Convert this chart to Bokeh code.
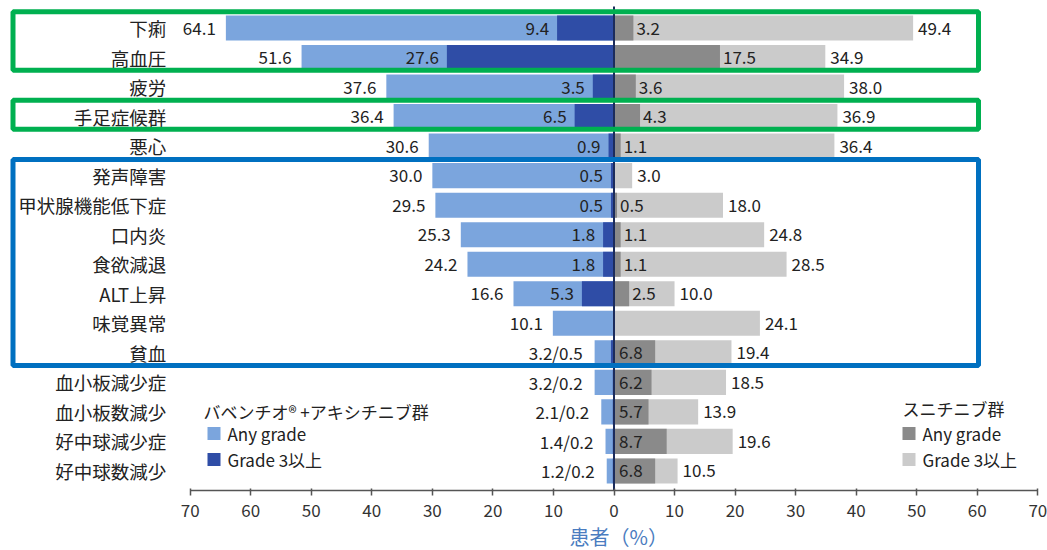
from bokeh.plotting import figure
from bokeh.models import Range1d, FixedTicker, Title
from bokeh.core.properties import value
from bokeh.embed import file_html
from bokeh.resources import INLINE

# Adverse events, % of patients
categories = ["下痢", "高血圧", "疲労", "手足症候群", "悪心", "発声障害", "甲状腺機能低下症",
              "口内炎", "食欲減退", "ALT上昇", "味覚異常", "貧血", "血小板減少症",
              "血小板数減少", "好中球減少症", "好中球数減少"]
combo_any = [64.1, 51.6, 37.6, 36.4, 30.6, 30.0, 29.5, 25.3, 24.2, 16.6, 10.1, 3.2, 3.2, 2.1, 1.4, 1.2]
combo_g3 = [9.4, 27.6, 3.5, 6.5, 0.9, 0.5, 0.5, 1.8, 1.8, 5.3, 0.0, 0.5, 0.2, 0.2, 0.2, 0.2]
suni_any = [49.4, 34.9, 38.0, 36.9, 36.4, 3.0, 18.0, 24.8, 28.5, 10.0, 24.1, 19.4, 18.5, 13.9, 19.6, 10.5]
suni_g3 = [3.2, 17.5, 3.6, 4.3, 1.1, 0.0, 0.5, 1.1, 1.1, 2.5, 0.0, 6.8, 6.2, 5.7, 8.7, 6.8]
axis_ticks = list(range(-70, 71, 10))

# highlighted row groups: (first row, last row, colour)
highlight_groups = [(0, 1, "#00b050"), (3, 3, "#00b050"), (5, 11, "#0070c0")]

FONT = value("Noto Sans CJK JP")
LIGHT_BLUE = "#7ba5dd"
DARK_BLUE = "#2f4da6"
DARK_GREY = "#8a8a8a"
LIGHT_GREY = "#cbcbcb"
TEXT = "#222222"

W, H = 1047, 550
FRAME_H = 490
PX_PER_UNIT = 6.055
ZERO_PX = 613.5
ROW0_PX = 27.5
ROW_PX = 29.53


def px_to_x(px):
    return (px - ZERO_PX) / PX_PER_UNIT


def px_to_row(py):
    return (py - ROW0_PX) / ROW_PX


p = figure(width=W, height=H, output_backend="svg", toolbar_location=None,
           x_range=Range1d(px_to_x(0), px_to_x(W)),
           y_range=Range1d(px_to_row(FRAME_H), px_to_row(0)),
           y_axis_location=None,
           min_border_left=0, min_border_right=0, min_border_top=0,
           min_border_bottom=H - FRAME_H)
p.outline_line_color = None
p.grid.visible = False
p.background_fill_color = "white"
p.border_fill_color = "white"

rows = list(range(len(categories)))
BAR_H = 0.85

# left side (combination arm): any grade, then grade >=3 on top
p.hbar(y=rows, left=[-v for v in combo_any], right=0, height=BAR_H,
       fill_color=LIGHT_BLUE, line_color=None)
p.hbar(y=rows, left=[-v for v in combo_g3], right=0, height=BAR_H,
       fill_color=DARK_BLUE, line_color=None)
# right side (sunitinib arm)
p.hbar(y=rows, left=0, right=suni_any, height=BAR_H,
       fill_color=LIGHT_GREY, line_color=None)
p.hbar(y=rows, left=0, right=suni_g3, height=BAR_H,
       fill_color=DARK_GREY, line_color=None)

# zero line
p.segment(x0=[0], y0=[px_to_row(6)], x1=[0], y1=[px_to_row(FRAME_H)],
          line_color="#1c2c5c", line_width=2)

VAL_FS = "17px"


def labels(xs, ys, texts, align, offset):
    if xs:
        p.text(x=xs, y=ys, text=texts, text_align=align, text_baseline="middle",
               x_offset=offset, text_font=FONT, text_font_size=VAL_FS, text_color=TEXT)


# left value labels
any_x, any_y, any_t = [], [], []
g3_x, g3_y, g3_t = [], [], []
combo_x, combo_y, combo_t = [], [], []
for r, a, g in zip(rows, combo_any, combo_g3):
    if a < 5:
        combo_x.append(-a); combo_y.append(r); combo_t.append(f"{a:.1f}/{g:.1f}")
    else:
        any_x.append(-a); any_y.append(r); any_t.append(f"{a:.1f}")
        if g > 0:
            g3_x.append(-g); g3_y.append(r); g3_t.append(f"{g:.1f}")
labels(any_x, any_y, any_t, "right", -10)
labels(g3_x, g3_y, g3_t, "right", -8)
labels(combo_x, combo_y, combo_t, "right", -12)

# right value labels
in_x, in_y, in_t = [], [], []
out_x, out_y, out_t = [], [], []
for r, g in zip(rows, suni_g3):
    if 5 <= g < 10:
        in_x.append(0); in_y.append(r); in_t.append(f"{g:.1f}")
    elif g > 0:
        out_x.append(g); out_y.append(r); out_t.append(f"{g:.1f}")
labels(in_x, in_y, in_t, "left", 5)
labels(out_x, out_y, out_t, "left", 3)
labels(suni_any, rows, [f"{v:.1f}" for v in suni_any], "left", 5)

# category labels
p.text(x=[axis_ticks[0]] * len(rows), y=rows, text=categories, text_align="right",
       text_baseline="middle", x_offset=-24, text_font=FONT, text_font_size="18.5px",
       text_color=TEXT)

# legends
LEG_FS = "17px"
p.text(x=[px_to_x(203)], y=[px_to_row(411)], text=["バベンチオ® +アキシチニブ群"],
       text_align="left", text_baseline="middle", text_font=FONT,
       text_font_size=LEG_FS, text_color=TEXT)
p.rect(x=[px_to_x(213.5)] * 2, y=[px_to_row(433), px_to_row(459)], width=13, height=13,
       width_units="screen", height_units="screen",
       fill_color=[LIGHT_BLUE, DARK_BLUE], line_color=None)
p.text(x=[px_to_x(227)] * 2, y=[px_to_row(433), px_to_row(459)],
       text=["Any grade", "Grade 3以上"], text_align="left", text_baseline="middle",
       text_font=FONT, text_font_size=LEG_FS, text_color=TEXT)

p.text(x=[px_to_x(902)], y=[px_to_row(408)], text=["スニチニブ群"],
       text_align="left", text_baseline="middle", text_font=FONT,
       text_font_size=LEG_FS, text_color=TEXT)
p.rect(x=[px_to_x(908.5)] * 2, y=[px_to_row(433), px_to_row(459)], width=13, height=13,
       width_units="screen", height_units="screen",
       fill_color=[DARK_GREY, LIGHT_GREY], line_color=None)
p.text(x=[px_to_x(922)] * 2, y=[px_to_row(433), px_to_row(459)],
       text=["Any grade", "Grade 3以上"], text_align="left", text_baseline="middle",
       text_font=FONT, text_font_size=LEG_FS, text_color=TEXT)

# highlight frames
for first, last, color in highlight_groups:
    p.quad(left=[px_to_x(12.5)], right=[px_to_x(978)], top=[first - 0.55],
           bottom=[last + 0.43], fill_color=None, line_color=color, line_width=5)

# x axis
ax = p.xaxis[0]
ax.bounds = (axis_ticks[0], axis_ticks[-1])
ax.ticker = FixedTicker(ticks=axis_ticks)
ax.major_label_overrides = {t: str(abs(t)) for t in axis_ticks}
ax.minor_tick_line_color = None
ax.major_tick_in = 2
ax.major_tick_out = 5
ax.axis_line_color = "#555555"
ax.axis_line_width = 1.5
ax.major_tick_line_color = "#555555"
ax.major_tick_line_width = 1.5
ax.major_label_text_font = "Noto Sans CJK JP"
ax.major_label_text_font_size = "17px"
ax.major_label_text_color = "#333333"
ax.major_label_standoff = 8

# axis title, placed under the zero line
p.add_layout(Title(text="患者（%）", align="left", offset=569, standoff=0,
                   text_font="Noto Sans CJK JP", text_font_size="20px",
                   text_font_style="normal", text_color="#4a7cc0"), "below")

open("out.html", "w").write(file_html(p, INLINE))
